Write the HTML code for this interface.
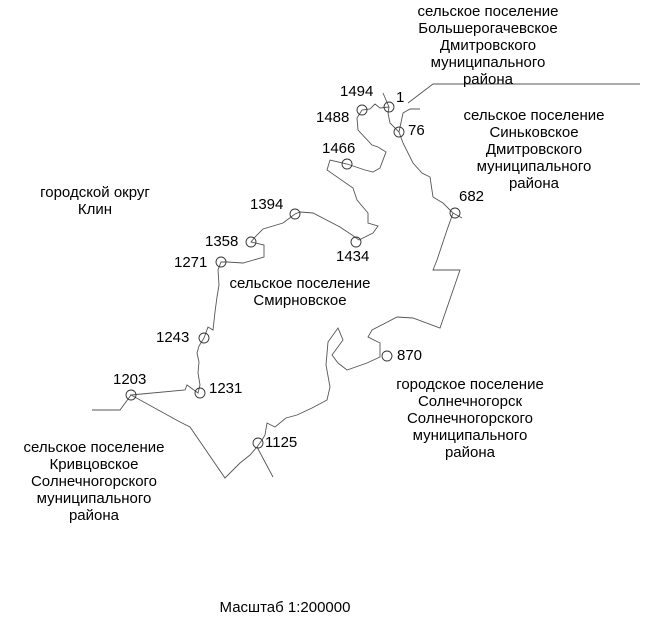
<!DOCTYPE html>
<html><head><meta charset="utf-8"><style>
body{margin:0;background:#fff;width:646px;height:630px;overflow:hidden;position:relative;font-family:"Liberation Sans",Arial,sans-serif;}
.t{position:absolute;font-size:15px;line-height:17px;color:#000;text-align:center;white-space:nowrap;}
.n{position:absolute;font-size:15px;line-height:17px;color:#000;white-space:nowrap;}
svg{position:absolute;left:0;top:0}
</style></head><body>
<svg width="646" height="630" viewBox="0 0 646 630">
<g fill="none" stroke="#555" stroke-width="0.9">
<polyline points="389,107 380,108 375,104 370,109 362,110 357,118 358,130 372,145 378,147 386,152 380,168 373,172 365,170 347,164 330,160 327,170 353,188 357,200 368,213 368,223 378,226 373,233 359,240 352,235 340,227 313,213 300,212 295,214 283,223 263,229 255,237 251,242 264,245 264,257 243,263 227,262 221,262 218,270 219,285 217,297 215,312 213,330 208,327 204,338 199,346 197,353 199,362 198,373 200,385 198,393 187,385 185,390 131,395 180,422 190,427 225,478 233,470 240,463 250,455 257,447 262,440 265,435 267,423 275,427 286,418 297,415 312,408 327,400 330,387 326,365 328,342 338,328 343,340 332,355 338,363 347,370 367,363 380,357 380,343 368,337 372,330 397,317 413,318 440,328 460,270 433,270 437,260 447,230 453,213 443,203 433,197 430,177 422,173 413,163 403,143 399,132 390,123 388,113 389,107 383,93"/>
<polyline points="131,395 120,410 92,410"/>
<polyline points="257,447 273,477"/>
<polyline points="399,132 403,113 410,109 420,109"/>
<polyline points="408,103 433,84 640,84"/>
<polyline points="453,213 462,218"/>
</g>
<g fill="none" stroke="#333" stroke-width="0.9">
<circle cx="389" cy="107" r="5"/><circle cx="362" cy="110" r="5"/><circle cx="399" cy="132" r="5"/>
<circle cx="347" cy="164" r="5"/><circle cx="455" cy="213" r="5"/><circle cx="295" cy="214" r="5"/>
<circle cx="356" cy="242" r="5"/><circle cx="251" cy="242" r="5"/><circle cx="221" cy="262" r="5"/>
<circle cx="204" cy="338" r="5"/><circle cx="200" cy="393" r="5"/><circle cx="131" cy="395" r="5"/>
<circle cx="258" cy="443" r="5"/><circle cx="387" cy="356" r="5"/>
</g>
</svg>
<div class="t" style="left:408px;top:3px;width:160px">сельское поселение<br>Большерогачевское<br>Дмитровского<br>муниципального<br>района</div>
<div class="t" style="left:454px;top:107px;width:160px">сельское поселение<br>Синьковское<br>Дмитровского<br>муниципального<br>района</div>
<div class="t" style="left:15px;top:184px;width:160px">городской округ<br>Клин</div>
<div class="t" style="left:220px;top:275px;width:160px">сельское поселение<br>Смирновское</div>
<div class="t" style="left:390px;top:376px;width:160px">городское поселение<br>Солнечногорск<br>Солнечногорского<br>муниципального<br>района</div>
<div class="t" style="left:9px;top:439px;width:170px">сельское поселение<br>Кривцовское<br>Солнечногорского<br>муниципального<br>района</div>
<div class="t" style="left:200px;top:599px;width:170px">Масштаб 1:200000</div>
<div class="n" style="left:340px;top:83px">1494</div>
<div class="n" style="left:396px;top:89px">1</div>
<div class="n" style="left:316px;top:109px">1488</div>
<div class="n" style="left:408px;top:122px">76</div>
<div class="n" style="left:322px;top:140px">1466</div>
<div class="n" style="left:459px;top:188px">682</div>
<div class="n" style="left:250px;top:196px">1394</div>
<div class="n" style="left:336px;top:248px">1434</div>
<div class="n" style="left:205px;top:233px">1358</div>
<div class="n" style="left:174px;top:254px">1271</div>
<div class="n" style="left:156px;top:329px">1243</div>
<div class="n" style="left:209px;top:380px">1231</div>
<div class="n" style="left:113px;top:371px">1203</div>
<div class="n" style="left:265px;top:434px">1125</div>
<div class="n" style="left:397px;top:347px">870</div>
</body></html>
